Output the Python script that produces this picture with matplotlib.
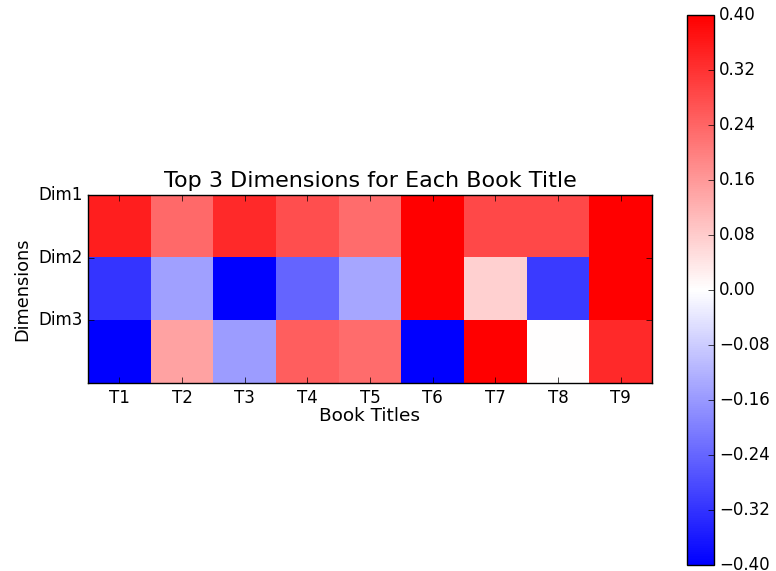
import numpy as np
import matplotlib as mpl
import matplotlib.pyplot as plt

mpl.style.use('classic')

titles = ['T1', 'T2', 'T3', 'T4', 'T5', 'T6', 'T7', 'T8', 'T9']
dims = ['Dim1', 'Dim2', 'Dim3']

dim1 = [0.35, 0.232, 0.334, 0.275, 0.23, 0.42, 0.287, 0.287, 0.41]
dim2 = [-0.317, -0.149, -0.42, -0.243, -0.14, 0.42, 0.074, -0.309, 0.41]
dim3 = [-0.43, 0.144, -0.155, 0.25, 0.229, -0.41, 0.40, 0.002, 0.333]

data = np.array([dim1, dim2, dim3])

fig = plt.figure(figsize=(7.76, 5.71), dpi=100)
ax = fig.add_axes([0.1134, 0.3292, 0.7268, 0.3293])
cax = fig.add_axes([0.885, 0.0105, 0.0348, 0.963])

im = ax.imshow(data, cmap='bwr', vmin=-0.4, vmax=0.4, interpolation='nearest',
               extent=[0, len(titles), len(dims), 0], aspect='auto')
ax.set_xticks(np.arange(len(titles)) + 0.5)
ax.set_xticklabels(titles)
ax.set_yticks(np.arange(len(dims)))
ax.set_yticklabels(dims)
ax.set_xlim(0, len(titles))
ax.set_ylim(len(dims), 0)
ax.set_title('Top 3 Dimensions for Each Book Title', fontsize=16, y=1.005)
ax.set_xlabel('Book Titles', fontsize=13.3, labelpad=0)
ax.set_ylabel('Dimensions', fontsize=12.8)

ticks = np.round(np.linspace(-0.4, 0.4, 11), 2)
cb = fig.colorbar(im, cax=cax, ticks=ticks)
cb.ax.set_yticklabels(['%.2f' % t if t >= 0 else '\u2212%.2f' % -t for t in ticks])

fig.savefig('out.png', dpi=100, facecolor='white')
